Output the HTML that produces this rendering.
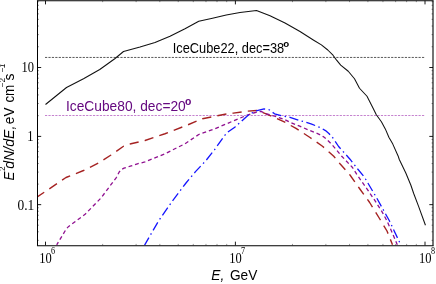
<!DOCTYPE html><html><head><meta charset="utf-8"><title>Chart</title><style>html,body{margin:0;padding:0;background:#fff}svg{display:block;will-change:transform}</style></head><body><svg width="436" height="284" viewBox="0 0 436 284">
<rect width="436" height="284" fill="#fff"/>
<defs><clipPath id="c"><rect x="37.5" y="0.7" width="395.5" height="244.65"/></clipPath></defs>
<path d="M102.67,245.35v-1.45M102.67,0.7v1.45M136.11,245.35v-1.45M136.11,0.7v1.45M159.83,245.35v-1.45M159.83,0.7v1.45M178.23,245.35v-1.45M178.23,0.7v1.45M193.27,245.35v-1.45M193.27,0.7v1.45M205.98,245.35v-1.45M205.98,0.7v1.45M217.00,245.35v-1.45M217.00,0.7v1.45M226.71,245.35v-1.45M226.71,0.7v1.45M292.48,245.35v-1.45M292.48,0.7v1.45M325.86,245.35v-1.45M325.86,0.7v1.45M349.55,245.35v-1.45M349.55,0.7v1.45M367.92,245.35v-1.45M367.92,0.7v1.45M382.94,245.35v-1.45M382.94,0.7v1.45M395.63,245.35v-1.45M395.63,0.7v1.45M406.63,245.35v-1.45M406.63,0.7v1.45M416.32,245.35v-1.45M416.32,0.7v1.45M37.5,240.34h1.45M433.0,240.34h-1.45M37.5,231.81h1.45M433.0,231.81h-1.45M37.5,225.20h1.45M433.0,225.20h-1.45M37.5,219.79h1.45M433.0,219.79h-1.45M37.5,215.22h1.45M433.0,215.22h-1.45M37.5,211.26h1.45M433.0,211.26h-1.45M37.5,207.77h1.45M433.0,207.77h-1.45M37.5,184.10h1.45M433.0,184.10h-1.45M37.5,172.09h1.45M433.0,172.09h-1.45M37.5,163.56h1.45M433.0,163.56h-1.45M37.5,156.95h1.45M433.0,156.95h-1.45M37.5,151.54h1.45M433.0,151.54h-1.45M37.5,146.97h1.45M433.0,146.97h-1.45M37.5,143.01h1.45M433.0,143.01h-1.45M37.5,139.52h1.45M433.0,139.52h-1.45M37.5,115.66h1.45M433.0,115.66h-1.45M37.5,103.53h1.45M433.0,103.53h-1.45M37.5,94.92h1.45M433.0,94.92h-1.45M37.5,88.24h1.45M433.0,88.24h-1.45M37.5,82.79h1.45M433.0,82.79h-1.45M37.5,78.17h1.45M433.0,78.17h-1.45M37.5,74.18h1.45M433.0,74.18h-1.45M37.5,70.65h1.45M433.0,70.65h-1.45M37.5,46.76h1.45M433.0,46.76h-1.45M37.5,34.63h1.45M433.0,34.63h-1.45M37.5,26.02h1.45M433.0,26.02h-1.45M37.5,19.34h1.45M433.0,19.34h-1.45M37.5,13.89h1.45M433.0,13.89h-1.45M37.5,9.27h1.45M433.0,9.27h-1.45M37.5,5.28h1.45M433.0,5.28h-1.45M37.5,1.75h1.45M433.0,1.75h-1.45" stroke="#000" stroke-width="0.42" fill="none"/>
<path d="M45.50,245.35v-3.7M45.50,0.7v3.7M235.40,245.35v-3.7M235.40,0.7v3.7M425.00,245.35v-3.7M425.00,0.7v3.7M37.5,204.65h3.7M433.0,204.65h-3.7M37.5,136.40h3.7M433.0,136.40h-3.7M37.5,67.50h3.7M433.0,67.50h-3.7" stroke="#000" stroke-width="0.9" fill="none"/>
<path d="M45.0,57.45H424.2" stroke="#222" stroke-width="0.75" stroke-dasharray="2.2 1.227" fill="none"/>
<path d="M45.0,115.5H424.2" stroke="#a33bb3" stroke-width="0.64" stroke-dasharray="2.2 1.227" fill="none"/>
<g clip-path="url(#c)" fill="none" stroke-linejoin="round">
<polyline points="45.50,104.50 66.50,87.50 83.50,78.75 99.75,69.50 114.75,58.75 123.50,51.50 140.00,47.00 155.00,42.50 170.00,36.25 185.00,28.75 198.75,21.25 212.50,18.25 226.25,15.00 240.00,12.50 256.50,10.50 270.00,15.80 285.00,23.00 300.00,31.50 313.70,40.20 321.40,44.90 327.80,50.00 333.00,55.20 336.20,59.60 340.70,65.10 348.25,71.25 354.50,78.75 359.50,88.25 367.00,96.25 373.10,108.30 376.30,114.80 381.40,121.80 385.30,128.90 389.00,137.50 392.80,144.10 398.00,155.70 399.30,159.50 405.70,172.80 410.80,185.00 413.70,193.50 418.50,206.10 425.45,225.20" stroke="#111" stroke-width="1.05"/>
<polyline points="37.25,197.00 66.00,177.50 83.50,170.50 98.50,163.00 111.00,155.00 123.50,146.25 131.00,143.75 145.00,140.50 165.00,133.75 187.50,125.00 202.50,118.75 225.00,114.25 233.30,113.10 247.00,111.20 256.80,110.50 264.90,113.30 274.60,117.50 284.30,121.90 296.00,128.40 310.00,137.50 322.50,146.25 333.75,156.25 340.00,163.75 350.00,175.00 359.50,188.50 369.50,202.25 379.50,218.50 387.00,231.00 392.50,244.75" stroke="#a52222" stroke-width="1.4" stroke-dasharray="9.2 6.2" stroke-dashoffset="0.8"/>
<polyline points="56.70,244.90 65.40,230.40 66.60,228.60 68.70,226.40 84.75,214.60 101.00,198.00 116.50,177.30 119.20,172.00 121.30,169.60 124.00,168.20 130.30,166.20 137.40,163.80 145.00,161.90 165.00,153.75 185.00,143.75 198.75,134.50 215.00,128.75 232.50,121.25 245.40,115.90 253.50,113.00 260.80,111.30 266.50,113.80 274.60,116.20 284.30,119.40 290.00,122.20 299.70,126.20 309.40,130.30 319.20,134.30 323.20,136.60 326.50,139.20 332.10,144.80 337.00,150.50 341.50,156.00 352.50,167.50 356.80,174.30 361.60,181.30 366.60,188.30 374.00,199.20 382.10,211.90 387.20,221.40 392.10,232.50 397.30,244.80" stroke="#901090" stroke-width="1.3" stroke-dasharray="3.9 2.9" stroke-dashoffset="0.7"/>
<polyline points="144.60,245.10 158.40,221.20 172.20,201.30 186.00,183.00 195.50,171.60 205.90,160.60 214.40,149.90 224.60,135.60 227.10,132.50 234.80,127.20 241.10,121.60 248.40,114.90 256.10,110.90 264.10,108.90 269.00,109.70 274.60,113.80 281.10,115.70 290.00,117.30 299.70,120.50 311.00,123.80 320.80,127.80 325.50,130.60 328.90,133.50 331.60,136.30 333.80,139.20 338.60,146.50 345.90,154.60 350.00,159.20 357.50,168.75 364.50,177.25 377.00,198.50 389.50,221.00 400.75,244.75" stroke="#1414ff" stroke-width="1.3" stroke-dasharray="9.3 3.45 1.5 3.45" stroke-dashoffset="0.7"/>
</g>
<path d="M36.95,0.7H433.55M36.95,245.75H433.55" stroke="#000" stroke-width="1.15" fill="none"/>
<path d="M37.5,0.7V245.75" stroke="#000" stroke-width="1.0" fill="none"/>
<path d="M433.0,0.7V245.75" stroke="#000" stroke-width="1.1" fill="none"/>
<text transform="translate(45.5,263.25) scale(0.8,1)" font-family="Liberation Serif, serif" font-size="15.6" text-anchor="middle">10</text>
<text transform="translate(51.0,253.95) scale(0.8,1)" font-family="Liberation Serif, serif" font-size="10.2" >6</text>
<text transform="translate(235.4,263.25) scale(0.8,1)" font-family="Liberation Serif, serif" font-size="15.6" text-anchor="middle">10</text>
<text transform="translate(240.9,253.95) scale(0.8,1)" font-family="Liberation Serif, serif" font-size="10.2" >7</text>
<text transform="translate(425.2,263.25) scale(0.8,1)" font-family="Liberation Serif, serif" font-size="15.6" text-anchor="middle">10</text>
<text transform="translate(430.90000000000003,253.95) scale(0.8,1)" font-family="Liberation Serif, serif" font-size="10.2" >8</text>
<text transform="translate(33.9,72.4) scale(0.8,1)" font-family="Liberation Serif, serif" font-size="15.6" text-anchor="end">10</text>
<text transform="translate(33.4,141.3) scale(0.8,1)" font-family="Liberation Serif, serif" font-size="15.6" text-anchor="end">1</text>
<text transform="translate(34.3,209.8) scale(0.86,1)" font-family="Liberation Serif, serif" font-size="15.6" text-anchor="end">0.1</text>
<text transform="translate(211.3,279.6) scale(0.965,1)" font-family="Liberation Sans, sans-serif" font-size="14.2" ><tspan font-style="italic">E,</tspan></text>
<text transform="translate(229.9,279.6) scale(0.965,1)" font-family="Liberation Sans, sans-serif" font-size="14.2" >GeV</text>
<g transform="translate(13.6,180) rotate(-90)">
<text transform="translate(-0.4,0) scale(0.96,1)" font-family="Liberation Sans, sans-serif" font-size="14.0" font-style="italic">E</text>
<text transform="translate(9.0,-8.3) scale(1,1)" font-family="Liberation Sans, sans-serif" font-size="8.2" >2</text>
<text transform="translate(11.3,0) scale(1.008,1)" font-family="Liberation Sans, sans-serif" font-size="14.0" font-style="italic">dN/dE,</text>
<text transform="translate(55.8,0) scale(0.96,1)" font-family="Liberation Sans, sans-serif" font-size="14.0" >e</text>
<text transform="translate(63.6,0) scale(0.96,1)" font-family="Liberation Sans, sans-serif" font-size="14.0" >V</text>
<text transform="translate(77.4,0) scale(0.96,1)" font-family="Liberation Sans, sans-serif" font-size="14.0" >cm</text>
<text transform="translate(92.8,-8.3) scale(1,1)" font-family="Liberation Sans, sans-serif" font-size="8.2" >−2</text>
<text transform="translate(99.6,0) scale(1.0,1)" font-family="Liberation Sans, sans-serif" font-size="14.0" >s</text>
<text transform="translate(107.3,-8.3) scale(1,1)" font-family="Liberation Sans, sans-serif" font-size="8.2" font-style="italic">−1</text>
</g>
<text transform="translate(172.75,52.85) scale(0.921,1)" font-family="Liberation Sans, sans-serif" font-size="13.9" >IceCube22, dec=38</text>
<text transform="translate(283.2,47.15) scale(1,1)" font-family="Liberation Sans, sans-serif" font-size="9.7" font-weight="bold">o</text>
<text transform="translate(66.0,110.5) scale(0.9,1)" font-family="Liberation Sans, sans-serif" font-size="15.3" fill="#660a80">IceCube80, dec=20</text>
<text transform="translate(185.1,104.55) scale(1,1)" font-family="Liberation Sans, sans-serif" font-size="10.4" font-weight="bold" fill="#660a80">o</text>
</svg></body></html>
